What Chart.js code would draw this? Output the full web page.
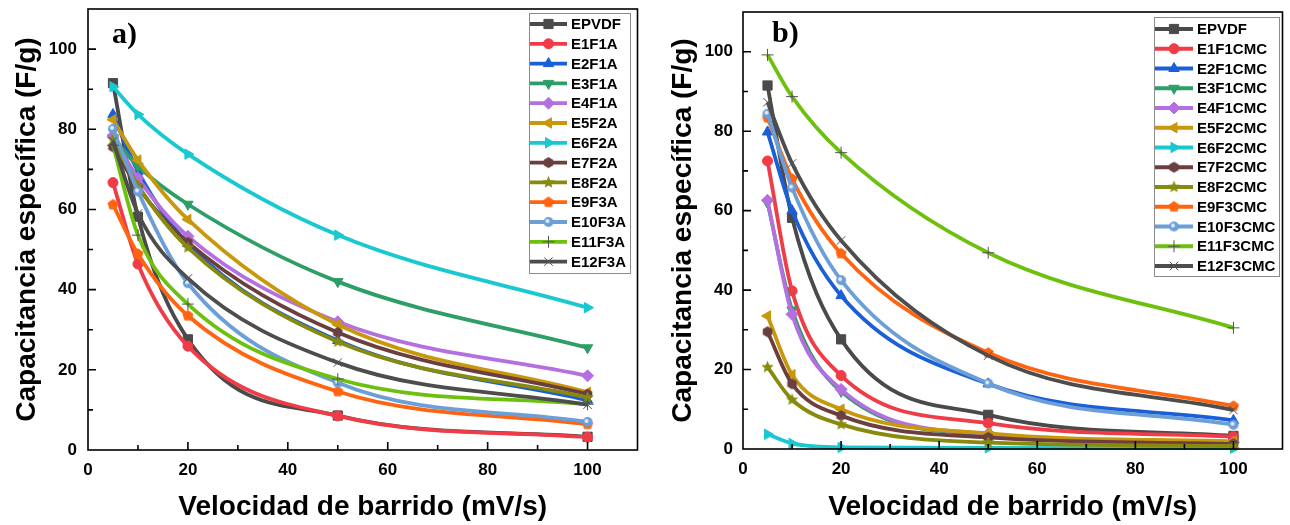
<!DOCTYPE html>
<html>
<head>
<meta charset="utf-8">
<script src="https://cdn.jsdelivr.net/npm/chart.js@4.4.1/dist/chart.umd.min.js"></script>
<style>
  body { margin: 0; background: #fff; }
  #wrap { position: relative; width: 1290px; height: 525px; }
  #wrap canvas { position: absolute; top: 0; }
</style>
</head>
<body>
<div id="wrap">
  <canvas id="chartA" width="645" height="525" style="left:0"></canvas>
  <canvas id="chartB" width="645" height="525" style="left:645px"></canvas>
</div>
<script>
// scan rates (mV/s) shared by every series
const scanRates = [5, 10, 20, 50, 100];

// specific capacitance (F/g), panel a
const EPVDF   = [91.5, 58.2, 27.6, 8.6, 3.3];
const E1F1A   = [66.7, 46.4, 25.9, 8.5, 3.2];
const E2F1A   = [83.7, 69.5, 51.5, 27.3, 12.4];
const E3F1A   = [78.0, 70.8, 61.3, 42.0, 25.5];
const E4F1A   = [78.3, 67.8, 53.3, 32.0, 18.5];
const E5F2A   = [82.4, 72.3, 57.5, 31.3, 14.4];
const E6F2A   = [90.6, 83.7, 73.8, 53.6, 35.5];
const E7F2A   = [75.6, 65.5, 51.8, 29.3, 13.9];
const E8F2A   = [77.5, 66.0, 50.5, 27.0, 13.1];
const E9F3A   = [61.2, 48.9, 33.5, 14.6, 6.4];
const E10F3A  = [80.1, 64.5, 41.6, 16.8, 7.0];
const E11F3A  = [76.0, 53.6, 36.4, 17.7, 11.4];
const E12F3A  = [77.0, 59.0, 42.8, 21.8, 11.3];

// specific capacitance (F/g), panel b
const E1F1CMC  = [72.5, 39.8, 18.5, 6.5, 3.1];
const E2F1CMC  = [79.8, 60.0, 38.6, 16.4, 7.2];
const E3F1CMC  = [62.0, 35.0, 14.5, 3.6, 1.6];
const E4F1CMC  = [62.6, 33.9, 15.0, 3.8, 1.7];
const E5F2CMC  = [33.5, 18.7, 10.0, 3.9, 1.9];
const E6F2CMC  = [3.7, 1.4, 0.4, 0.3, 0.2];
const E7F2CMC  = [29.5, 16.4, 8.4, 2.9, 1.3];
const E8F2CMC  = [20.6, 12.4, 6.2, 1.6, 0.8];
const E9F3CMC  = [83.4, 68.0, 49.2, 24.2, 10.8];
const E10F3CMC = [84.4, 65.8, 42.5, 16.5, 6.1];
const E11F3CMC = [99.2, 88.7, 74.6, 49.4, 30.5];
const E12F3CMC = [87.3, 71.9, 52.5, 23.5, 9.8];

const namesA = ['EPVDF', 'E1F1A', 'E2F1A', 'E3F1A', 'E4F1A', 'E5F2A', 'E6F2A',
                'E7F2A', 'E8F2A', 'E9F3A', 'E10F3A', 'E11F3A', 'E12F3A'];
const seriesA = [EPVDF, E1F1A, E2F1A, E3F1A, E4F1A, E5F2A, E6F2A,
                 E7F2A, E8F2A, E9F3A, E10F3A, E11F3A, E12F3A];
const namesB = ['EPVDF', 'E1F1CMC', 'E2F1CMC', 'E3F1CMC', 'E4F1CMC', 'E5F2CMC', 'E6F2CMC',
                'E7F2CMC', 'E8F2CMC', 'E9F3CMC', 'E10F3CMC', 'E11F3CMC', 'E12F3CMC'];
const seriesB = [EPVDF, E1F1CMC, E2F1CMC, E3F1CMC, E4F1CMC, E5F2CMC, E6F2CMC,
                 E7F2CMC, E8F2CMC, E9F3CMC, E10F3CMC, E11F3CMC, E12F3CMC];

const FONT = '"Liberation Sans", Arial, sans-serif';

// small canvases for the marker shapes Chart.js has no built-in for
function polyMarker(color, sides, r, innerRatio) {
  const c = document.createElement('canvas');
  const s = Math.ceil(r * 2 + 2);
  c.width = s; c.height = s;
  const g = c.getContext('2d');
  g.fillStyle = color;
  g.beginPath();
  const n = innerRatio ? sides * 2 : sides;
  for (let k = 0; k < n; k++) {
    const rr = innerRatio && k % 2 ? r * innerRatio : r;
    const a = -Math.PI / 2 + k * 2 * Math.PI / n;
    const px = s / 2 + rr * Math.cos(a), py = s / 2 + rr * Math.sin(a);
    k ? g.lineTo(px, py) : g.moveTo(px, py);
  }
  g.closePath();
  g.fill();
  return c;
}
function dotMarker(color, r) {
  const c = document.createElement('canvas');
  const s = Math.ceil(r * 2 + 2);
  c.width = s; c.height = s;
  const g = c.getContext('2d');
  g.fillStyle = color;
  g.beginPath(); g.arc(s / 2, s / 2, r, 0, Math.PI * 2); g.fill();
  g.fillStyle = 'rgba(255,255,255,0.8)';
  g.beginPath(); g.arc(s / 2 - 1, s / 2 - 1, r * 0.4, 0, Math.PI * 2); g.fill();
  return c;
}

const colors = ['#4a4a4a', '#f03c46', '#1a5fd6', '#2e9e68', '#b46fe0', '#c9970b', '#19c8d0',
                '#6b3f3f', '#878a0c', '#ff6410', '#6c9ed8', '#6ec00e', '#4d4d4d'];
const markers = [
  { style: 'rect', rot: 0, r: 6.5 },
  { style: 'circle', rot: 0, r: 5 },
  { style: 'triangle', rot: 0, r: 6 },
  { style: 'triangle', rot: 180, r: 6 },
  { style: 'rectRot', rot: 0, r: 6 },
  { style: 'triangle', rot: -90, r: 6 },
  { style: 'triangle', rot: 90, r: 6 },
  { style: polyMarker(colors[7], 6, 5.5), rot: 0, r: 5 },
  { style: polyMarker(colors[8], 5, 6.5, 0.45), rot: 0, r: 5 },
  { style: polyMarker(colors[9], 5, 5.8), rot: 0, r: 5 },
  { style: dotMarker(colors[10], 5), rot: 0, r: 5 },
  { style: 'cross', rot: 0, r: 6 },
  { style: 'crossRot', rot: 0, r: 6 }
];

// closed frame plus inward major/minor ticks on the bottom and left axes
const framePlugin = {
  id: 'frame',
  afterDatasetsDraw(chart) {
    const { ctx, chartArea: a, scales: { x, y } } = chart;
    ctx.save();
    ctx.strokeStyle = '#000';
    ctx.lineWidth = 1.6;
    ctx.strokeRect(a.left, a.top, a.right - a.left, a.bottom - a.top);
    ctx.beginPath();
    for (let v = 10; v < 110; v += 10) {
      const len = v % 20 === 0 ? 8 : 5;
      const px = x.getPixelForValue(v);
      ctx.moveTo(px, a.bottom); ctx.lineTo(px, a.bottom - len);
      const py = y.getPixelForValue(v);
      ctx.moveTo(a.left, py); ctx.lineTo(a.left + len, py);
    }
    ctx.stroke();
    ctx.restore();
  }
};

// boxed legend drawn inside the plot, Origin style
const boxLegend = {
  id: 'boxLegend',
  afterDraw(chart, args, o) {
    const { ctx } = chart;
    ctx.save();
    ctx.strokeStyle = '#8c8c8c';
    ctx.lineWidth = 1;
    ctx.strokeRect(o.left + 0.5, o.top + 0.5, o.width, o.height);
    ctx.font = 'bold 15px ' + FONT;
    ctx.textBaseline = 'middle';
    chart.data.datasets.forEach((ds, i) => {
      const yy = o.rowStart + i * o.rowGap;
      ctx.strokeStyle = ds.borderColor;
      ctx.lineWidth = 3.8;
      ctx.beginPath(); ctx.moveTo(o.lineFrom, yy); ctx.lineTo(o.lineTo, yy); ctx.stroke();
      ctx.fillStyle = ds.pointBackgroundColor;
      ctx.strokeStyle = ds.pointBorderColor;
      ctx.lineWidth = ds.pointBorderWidth;
      Chart.helpers.drawPoint(ctx, {
        pointStyle: ds.pointStyle, rotation: ds.pointRotation,
        radius: ds.pointRadius, borderWidth: ds.pointBorderWidth
      }, (o.lineFrom + o.lineTo) / 2, yy);
      ctx.fillStyle = '#000';
      ctx.fillText(ds.label, o.textX, yy + 1);
    });
    ctx.restore();
  }
};

const panelLabel = {
  id: 'panelLabel',
  afterDraw(chart, args, o) {
    const { ctx } = chart;
    ctx.save();
    ctx.font = 'bold 30px "Liberation Serif", "Times New Roman", serif';
    ctx.fillStyle = '#000';
    ctx.textBaseline = 'alphabetic';
    ctx.fillText(o.text, o.x, o.y);
    ctx.restore();
  }
};

function buildDatasets(names, series) {
  const n = names.length;
  return names.map((name, i) => {
    const m = markers[i];
    const thin = m.style === 'cross' || m.style === 'crossRot';
    return {
      label: name,
      data: series[i].map((v, k) => ({ x: scanRates[k], y: v })),
      borderColor: colors[i],
      backgroundColor: colors[i],
      borderWidth: 3.8,
      pointStyle: m.style,
      pointRotation: m.rot,
      pointRadius: m.r,
      pointBackgroundColor: colors[i],
      pointBorderColor: thin ? '#555' : colors[i],
      pointBorderWidth: 1,
      cubicInterpolationMode: 'monotone',
      order: n - i,
      clip: false
    };
  });
}

function makeChart(id, names, series, L) {
  return new Chart(document.getElementById(id), {
    type: 'line',
    data: { datasets: buildDatasets(names, series) },
    plugins: [framePlugin, boxLegend, panelLabel],
    options: {
      responsive: false,
      animation: false,
      events: [],
      layout: { padding: { left: 0, top: L.top, right: L.right, bottom: 0 } },
      scales: {
        x: {
          type: 'linear', min: 0, max: 110,
          afterFit: s => { s.height = L.xAxisH; s.paddingLeft = 0; s.paddingRight = 0; },
          grid: { display: false, drawTicks: false }, border: { display: false },
          ticks: {
            stepSize: 20, includeBounds: false, padding: 10, maxRotation: 0,
            color: '#000', font: { family: FONT, size: 17, weight: 'bold' }
          },
          title: {
            display: true, text: 'Velocidad de barrido (mV/s)', color: '#000',
            font: { family: FONT, size: 28, weight: 'bold' }, padding: { top: 0, bottom: 1 }
          }
        },
        y: {
          min: 0, max: 110,
          afterFit: s => { s.width = L.yAxisW; s.paddingTop = 0; s.paddingBottom = 0; },
          grid: { display: false, drawTicks: false }, border: { display: false },
          ticks: {
            stepSize: 20, includeBounds: false, padding: L.yTickPad,
            color: '#000', font: { family: FONT, size: 17, weight: 'bold' }
          },
          title: {
            display: true, text: 'Capacitancia específica (F/g)', color: '#000',
            font: { family: FONT, size: 28, weight: 'bold' }, padding: { top: L.yTitlePad, bottom: 0 }
          }
        }
      },
      plugins: {
        legend: { display: false },
        tooltip: { enabled: false },
        boxLegend: L.legend,
        panelLabel: L.label
      }
    }
  });
}

makeChart('chartA', namesA, seriesA, {
  top: 9, right: 7, xAxisH: 75, yAxisW: 88, yTickPad: 11, yTitlePad: 10,
  legend: { left: 529, top: 13, width: 101, height: 260, rowStart: 24, rowGap: 19.8,
            lineFrom: 530, lineTo: 567, textX: 571 },
  label: { text: 'a)', x: 112, y: 43 }
});

makeChart('chartB', namesB, seriesB, {
  top: 12, right: 2, xAxisH: 76, yAxisW: 98, yTickPad: 10, yTitlePad: 21,
  legend: { left: 509, top: 17, width: 125, height: 259, rowStart: 29, rowGap: 19.75,
            lineFrom: 510, lineTo: 548, textX: 552 },
  label: { text: 'b)', x: 127, y: 42 }
});
</script>
</body>
</html>
